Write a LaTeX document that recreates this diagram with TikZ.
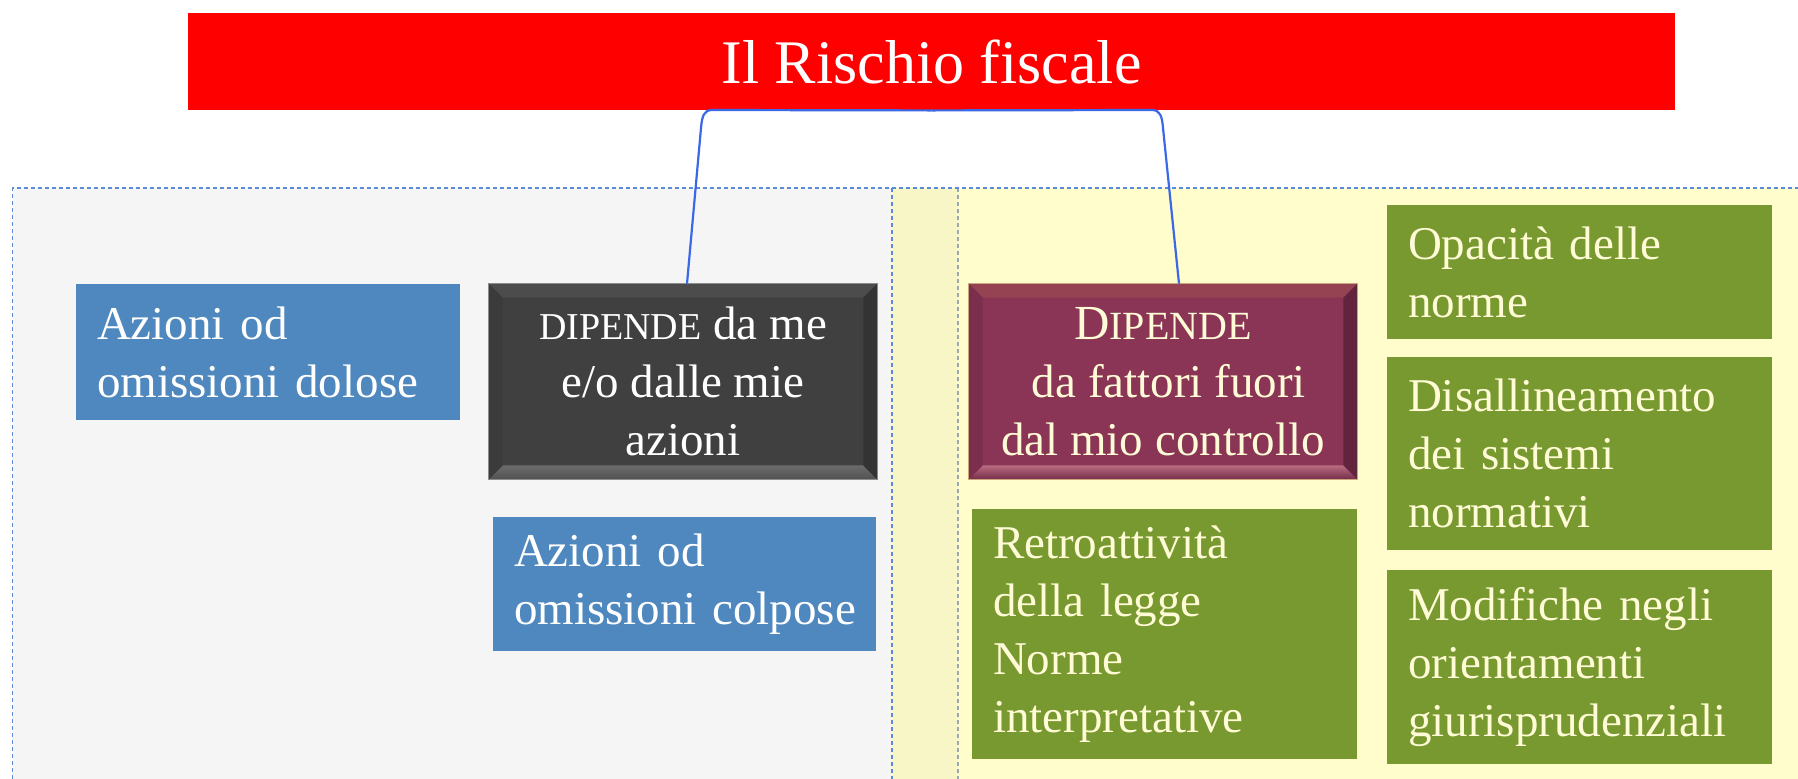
\documentclass[tikz,border=0pt]{standalone}
\usepackage{fontspec}
\setmainfont{Liberation Serif}
\usetikzlibrary{calc}
\definecolor{titlered}{HTML}{FF0000}
\definecolor{leafblue}{HTML}{4F88BE}
\definecolor{leafgreen}{HTML}{77992F}
\definecolor{cream}{HTML}{FFFBD6}
\definecolor{darkface}{HTML}{414040}
\definecolor{maroonface}{HTML}{8A3456}
\definecolor{conncol}{HTML}{3A68E6}
\definecolor{leftbg}{HTML}{F5F5F5}
\definecolor{rightbg}{HTML}{FFFDCB}
\definecolor{bandbg}{HTML}{F8F6C6}
\definecolor{dashblue}{HTML}{5A8AD8}
\definecolor{dashgray}{HTML}{98A8AE}
\definecolor{tanline}{HTML}{C9A77A}
\newcommand\fakesc[2]{{\fontsize{#1}{29}\selectfont #2}}
\newcommand\drawbevel[6]{%
  \path[#3] (#1.north west) -- (#1.north east) -- ($(#1.north east)+(-#2,-#2)$) -- ($(#1.north west)+(#2,-#2)$) -- cycle;
  \path[#4] (#1.south west) -- (#1.south east) -- ($(#1.south east)+(-#2,#2)$) -- ($(#1.south west)+(#2,#2)$) -- cycle;
  \path[#5] (#1.north west) -- (#1.south west) -- ($(#1.south west)+(#2,#2)$) -- ($(#1.north west)+(#2,-#2)$) -- cycle;
  \path[#6] (#1.north east) -- (#1.south east) -- ($(#1.south east)+(-#2,#2)$) -- ($(#1.north east)+(-#2,-#2)$) -- cycle;
}
\tikzset{
  leaf/.style={rectangle, inner xsep=10.5pt, inner ysep=0pt, align=left,
    font=\fontsize{23.5}{29}\selectfont},
  bluebox/.style={leaf, fill=leafblue, text=white},
  greenbox/.style={leaf, fill=leafgreen, text=cream},
  bevelbox/.style={rectangle, inner sep=0pt, align=center,
    font=\fontsize{23.5}{29}\selectfont, minimum width=194pt, minimum height=97.5pt},
  conn/.style={draw=conncol, line width=1.1pt},
  regionline/.style={line width=0.6pt, dash pattern=on 2pt off 1.5pt},
}
\begin{document}
\begin{tikzpicture}[x=0.5pt, y=-0.5pt]
\clip (0,0) rectangle (1798,778);
\fill[white] (0,0) rectangle (1798,778);
% regions
\fill[leftbg] (12.6,188) rectangle (892,800);
\fill[rightbg] (892,188) rectangle (1810,800);
\fill[bandbg] (892,188) rectangle (958,800);
\draw[regionline, dashgray] (958,188) -- (958,800);
\draw[regionline, dashblue] (12.6,800) -- (12.6,188) -- (1810,188);
\draw[regionline, dashblue] (892,188) -- (892,800);

% title
\node[rectangle, fill=titlered, text=white, minimum width=743.5pt, minimum height=48.5pt,
  inner sep=0pt, font=\fontsize{31}{37}\selectfont] (title) at (931.5,61.5) {Il Rischio fiscale};

% bevel boxes
\node[bevelbox, fill=darkface, text=white] (dark) at (683,381.5)
  {\fakesc{19}{DIPENDE} da me\\e/o dalle mie\\azioni};
\drawbevel{dark}{7pt}{fill=black!70!white}{top color=black!58, bottom color=black!68}{fill=black!77}{fill=black!80}
\draw[black!45, line width=0.8pt] (dark.north west) rectangle (dark.south east);

\node[bevelbox, fill=maroonface, text=cream] (maroon) at (1163,381.5)
  {{\fontsize{24.5}{29}\selectfont D}\fakesc{20}{IPENDE}\\\hspace*{6pt}da fattori fuori\\dal mio controllo};
\drawbevel{maroon}{7pt}{fill=maroonface!80!brown}{top color=maroonface!60!pink, bottom color=maroonface!85!black}{fill=maroonface!90!black}{fill=maroonface!70!black}
\draw[tanline, line width=0.8pt] (maroon.north west) rectangle (maroon.south east);

% leaf boxes
\node[bluebox, text width=171pt, minimum height=68pt] (dolose) at (268,352)
  {\mbox{Azioni od}\\\mbox{omissioni dolose}};
\node[bluebox, text width=170.5pt, minimum height=67pt] (colpose) at (684.5,584)
  {\mbox{Azioni od}\\\mbox{omissioni colpose}};
\node[greenbox, text width=171.5pt, minimum height=125pt] (retro) at (1164.5,634)
  {Retroattività\\\mbox{della legge}\\Norme\\interpretative};
\node[greenbox, text width=171.5pt, minimum height=67pt] (opac) at (1579.5,272)
  {\mbox{Opacità delle}\\norme};
\node[greenbox, text width=171.5pt, minimum height=96.5pt] (disall) at (1579.5,453.5)
  {Disallineamento\\\mbox{dei sistemi}\\normativi};
\node[greenbox, text width=171.5pt, minimum height=97pt] (modif) at (1579.5,667)
  {\mbox{Modifiche negli}\\orientamenti\\giurisprudenziali};

% connectors
\draw[conn] (title.south) -- (712,110) .. controls (704,110) and (702,116) .. (701,128) -- ([xshift=2pt]dark.north);
\draw[conn] (title.south) -- (1152,110) .. controls (1160,110) and (1162,116) .. (1163,128) -- ([xshift=8pt]maroon.north);
\end{tikzpicture}
\end{document}
